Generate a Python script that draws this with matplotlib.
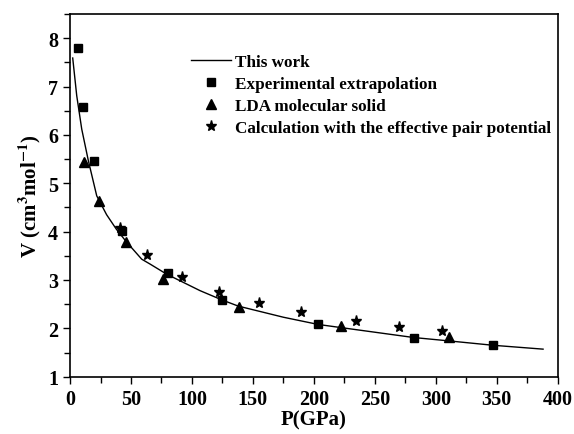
import matplotlib
matplotlib.use("Agg")
import matplotlib.pyplot as plt
from matplotlib.ticker import MultipleLocator

plt.rcParams["font.family"] = ["Liberation Serif", "DejaVu Serif"]
plt.rcParams["font.weight"] = "bold"
plt.rcParams["mathtext.fontset"] = "stix"

# fitted curve ("This work")
fit_p = [2.2, 5.5, 9.6, 15, 21.9, 30, 38, 46.2, 58.8, 65.6, 79.3, 106.6,
         124.4, 138, 175, 203.7, 229.7, 282, 311, 347, 388]
fit_v = [7.59, 6.81, 6.12, 5.47, 4.74, 4.35, 4.05, 3.79, 3.43, 3.33, 3.12, 2.78,
         2.59, 2.46, 2.23, 2.08, 1.99, 1.81, 1.74, 1.65, 1.57]

# experimental extrapolation
exp_p = [6.3, 10.9, 19.9, 42.7, 80.6, 125, 203.2, 282.5, 347.3]
exp_v = [7.80, 6.57, 5.46, 4.02, 3.14, 2.59, 2.09, 1.80, 1.66]

# LDA molecular solid
lda_p = [11.5, 24, 46.2, 76, 138.6, 222.3, 311.2]
lda_v = [5.45, 4.63, 3.79, 3.02, 2.45, 2.05, 1.82]

# effective pair potential
epp_p = [41, 62.9, 91.6, 122.2, 155, 189.2, 234.6, 270.1, 305.4]
epp_v = [4.07, 3.52, 3.07, 2.76, 2.52, 2.33, 2.15, 2.03, 1.94]

fig = plt.figure(figsize=(5.74, 4.35), dpi=100)
ax = fig.add_axes([0.122, 0.1317, 0.8496, 0.8338])

ax.plot(fit_p, fit_v, color="black", lw=1.0, label="This work")
ax.plot(exp_p, exp_v, "s", color="black", ms=6, label="Experimental extrapolation")
ax.plot(lda_p, lda_v, "^", color="black", ms=7, label="LDA molecular solid")
ax.plot(epp_p, epp_v, "*", color="black", ms=8,
        label="Calculation with the effective pair potential")

ax.set_xlim(0, 400)
ax.set_ylim(1, 8.5)
ax.xaxis.set_major_locator(MultipleLocator(50))
ax.xaxis.set_minor_locator(MultipleLocator(25))
ax.yaxis.set_major_locator(MultipleLocator(1))
ax.yaxis.set_minor_locator(MultipleLocator(0.5))
ax.tick_params(which="major", direction="out", length=5, width=1.0, labelsize=14.5)
ax.tick_params(which="minor", direction="out", length=4, width=1.0)
for s in ax.spines.values():
    s.set_linewidth(1.2)

ax.set_xlabel("P(GPa)", fontsize=15, fontweight="bold", labelpad=1)
ax.set_ylabel(r"V (cm$^{\mathbf{3}}$mol$^{\mathbf{-1}}$)", fontsize=15,
              fontweight="bold", labelpad=4)

leg = ax.legend(loc="upper left", bbox_to_anchor=(0.249, 0.89), frameon=False,
                prop={"family": "Liberation Serif", "weight": "bold", "size": 12.3},
                handlelength=2.34, handletextpad=0.23, labelspacing=0.36,
                borderpad=0, borderaxespad=0)

fig.savefig("out.png", dpi=100)
